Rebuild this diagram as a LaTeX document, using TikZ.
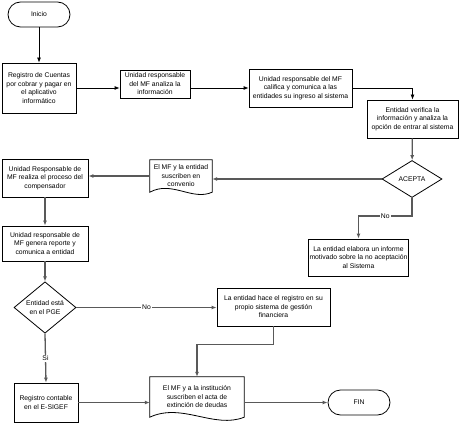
\documentclass[tikz,border=0pt]{standalone}
\usepackage{fontspec}
\setmainfont{Liberation Sans}
\usetikzlibrary{arrows.meta,shapes.geometric}
\tikzset{
      procbox/.style={
        draw=black,
        line width=0.8pt,
        fill=white,
        align=center,
        inner sep=1pt,
        font=\fontsize{6.8}{8.5}\selectfont
      },
      termbox/.style={
        procbox,
        rounded corners=12.5pt,
        minimum width=62pt,
        minimum height=25pt
      },
      decbox/.style={
        procbox,
        diamond,
        inner sep=0pt
      },
      docbox/.style={
        align=center,
        inner sep=1pt,
        font=\fontsize{6.8}{8.5}\selectfont
      },
      linkarrow/.style={
        -{Latex[length=5pt,width=4pt]},
        line width=0.8pt,
        color=black
      },
      grayarrow/.style={
        linkarrow,
        line width=1.3pt,
        color=black!65
      },
      flowlabel/.style={
        fill=white,
        inner sep=1pt,
        text=black,
        font=\fontsize{6.8}{8}\selectfont
      }
    }

\begin{document}
\begin{tikzpicture}[x=1pt,y=-1pt]
    \useasboundingbox (0,0) rectangle (465,430);
    \node[termbox] (ini) at (39,14.5) {Inicio};
    \node[procbox, minimum width=74pt, minimum height=50pt] (reg) at (39,88) {Registro de Cuentas\\por cobrar y pagar en\\el aplicativo\\informático};
    \node[procbox, minimum width=70pt, minimum height=28pt] (ana) at (155,84) {Unidad responsable\\del MF analiza la\\información};
    \node[procbox, minimum width=103pt, minimum height=38pt] (cal) at (300.5,88) {Unidad responsable del MF\\califica y comunica a las\\entidades su ingreso al sistema};
    \node[procbox, minimum width=91pt, minimum height=38pt] (ver) at (412.5,119) {Entidad verifica la\\información y analiza la\\opción de entrar al sistema};
    \node[decbox, minimum width=60pt, minimum height=37pt] (acp) at (412,179) {ACEPTA};
    \node[docbox, minimum width=62pt, minimum height=32pt] (conv) at (181,176) {El MF y la entidad\\suscriben en\\convenio};
    \node[procbox, minimum width=86pt, minimum height=38pt] (rea) at (45,178) {Unidad Responsable de\\MF realiza el proceso del\\compensador};
    \node[procbox, minimum width=86pt, minimum height=35pt] (gen) at (45,243.5) {Unidad responsable de\\MF genera reporte y\\comunica a entidad};
    \node[decbox, minimum width=62pt, minimum height=37pt] (pge) at (45,307.5) {Entidad está\\en el PGE};
    \node[procbox, minimum width=93pt, minimum height=37pt] (inf) at (358.5,257.5) {La entidad elabora un informe\\motivado sobre la no aceptación\\al Sistema};
    \node[procbox, minimum width=113pt, minimum height=38pt] (hace) at (273.5,307) {La entidad hace el registro en su\\propio sistema de gestión\\financiera};
    \node[procbox, minimum width=64pt, minimum height=39pt] (conta) at (46,402.5) {Registro contable\\en el E-SIGEF};
    \node[docbox, minimum width=94pt, minimum height=40pt] (acta) at (197,397) {El MF y a la institución\\suscriben el acta de\\extinción de deudas};
    \node[termbox] (fin) at (359,402.5) {FIN};
    % document outlines
    \draw[line width=0.8pt] (conv.south west) -- (conv.north west) -- (conv.north east) -- (conv.south east)
      .. controls ([xshift=-20pt,yshift=-9pt]conv.south east) and ([xshift=22pt,yshift=12pt]conv.south west) .. cycle;
    \draw[line width=0.8pt] (acta.south west) -- (acta.north west) -- (acta.north east) -- (acta.south east)
      .. controls ([xshift=-30pt,yshift=-12pt]acta.south east) and ([xshift=32pt,yshift=15pt]acta.south west) .. cycle;
    % connectors
    \draw[linkarrow] (ini) -- (reg);
    \draw[linkarrow] (reg.east) -- (reg.east -| ana.west);
    \draw[linkarrow] (ana.east |- cal.west) -- (cal.west);
    \draw[linkarrow] (cal.east) -| (ver.north);
    \draw[grayarrow] (ver) -- (acp);
    \draw[grayarrow] (acp.west) -- (acp.west -| conv.east);
    \draw[grayarrow] (conv.west) -- (conv.west -| rea.east);
    \draw[grayarrow] (rea) -- (gen);
    \draw[grayarrow] (gen) -- (pge);
    \draw[grayarrow] (acp.south) -- ++(0,18) -| node[flowlabel, pos=0.25] {No} (inf.north);
    \draw[grayarrow] (pge.east) -- node[flowlabel] {No} (pge.east -| hace.west);
    \draw[grayarrow] (pge.south) -- node[flowlabel] {Si} (conta.north);
    \draw[grayarrow] (hace.south) -- ++(0,18) -| (acta.north);
    \draw[grayarrow] (conta.east) -- (conta.east -| acta.west);
    \draw[grayarrow] (fin.west -| acta.east) -- (fin.west);
    \end{tikzpicture}
\end{document}
